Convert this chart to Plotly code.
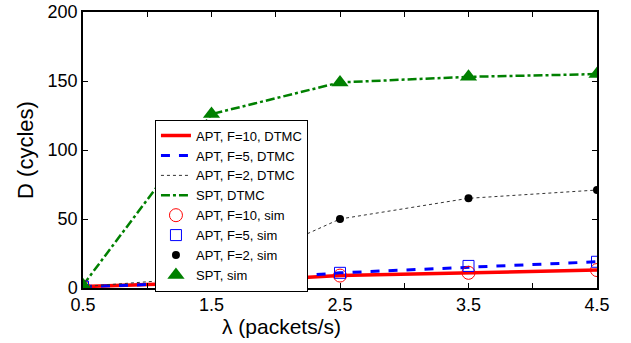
import plotly.graph_objects as go

lam = [0.5, 1.5, 2.5, 3.5, 4.5]
apt10 = [1, 4, 9, 11, 13]
apt5 = [1, 4, 11, 15, 19]
apt2 = [1, 8, 50, 65, 71]
spt = [2, 126, 149, 153, 155]

apt10_sim = [1, 4, 9, 11, 13]
apt5_sim = [1, 4, 11, 16, 19]
apt2_sim = [1, 8, 50, 65, 71]
spt_sim = [2, 126, 149, 153, 155]

fig = go.Figure()
fig.add_trace(go.Scatter(x=lam, y=apt10, mode="lines", name="APT, F=10, DTMC",
                         line=dict(color="red", width=3.5)))
fig.add_trace(go.Scatter(x=lam, y=apt5, mode="lines", name="APT, F=5, DTMC",
                         line=dict(color="blue", width=3, dash="dash")))
fig.add_trace(go.Scatter(x=lam, y=apt2, mode="lines", name="APT, F=2, DTMC",
                         line=dict(color="#333333", width=1, dash="dot")))
fig.add_trace(go.Scatter(x=lam, y=spt, mode="lines", name="SPT, DTMC",
                         line=dict(color="green", width=2.5, dash="dashdot")))
fig.add_trace(go.Scatter(x=lam, y=apt10_sim, mode="markers", name="APT, F=10, sim",
                         marker=dict(symbol="circle-open", color="red", size=13, line=dict(width=1))))
fig.add_trace(go.Scatter(x=lam, y=apt5_sim, mode="markers", name="APT, F=5, sim",
                         marker=dict(symbol="square-open", color="blue", size=11, line=dict(width=1))))
fig.add_trace(go.Scatter(x=lam, y=apt2_sim, mode="markers", name="APT, F=2, sim",
                         marker=dict(symbol="circle", color="black", size=8)))
fig.add_trace(go.Scatter(x=lam, y=spt_sim, mode="markers", name="SPT, sim",
                         marker=dict(symbol="triangle-up", color="green", size=15)))

fig.update_layout(
    width=631, height=343,
    margin=dict(l=83, r=34, t=12, b=55),
    paper_bgcolor="white", plot_bgcolor="white",
    font=dict(family="Liberation Sans, Arial", color="black"),
    showlegend=True,
    legend=dict(x=0.14, y=0.61, xanchor="left", yanchor="top",
                bgcolor="white", bordercolor="black", borderwidth=1,
                font=dict(size=13), tracegroupgap=0, itemwidth=30),
    xaxis=dict(range=[0.5, 4.5], tickvals=[0.5, 1.5, 2.5, 3.5, 4.5],
               ticktext=["0.5", "1.5", "2.5", "3.5", "4.5"],
               ticks="inside", ticklen=5, tickcolor="black",
               minor=dict(tickvals=[1, 2, 3, 4], ticks="inside", ticklen=5, tickcolor="black"),
               showline=True, linecolor="black", linewidth=1.5, mirror="allticks",
               showgrid=False, zeroline=False, tickfont=dict(size=18),
               automargin=False),
    yaxis=dict(range=[0, 200], tickvals=[0, 50, 100, 150, 200],
               ticks="inside", ticklen=5, tickcolor="black",
               showline=True, linecolor="black", linewidth=1.5, mirror="allticks",
               showgrid=False, zeroline=False, tickfont=dict(size=18),
               automargin=False,
               title=dict(text="D (cycles)", font=dict(size=22), standoff=8)),
    annotations=[dict(text="λ (packets/s)", xref="paper", yref="paper",
                      x=0.387, y=-0.09, xanchor="center", yanchor="top",
                      showarrow=False, font=dict(size=21))],
)
fig.write_html("out.html")
